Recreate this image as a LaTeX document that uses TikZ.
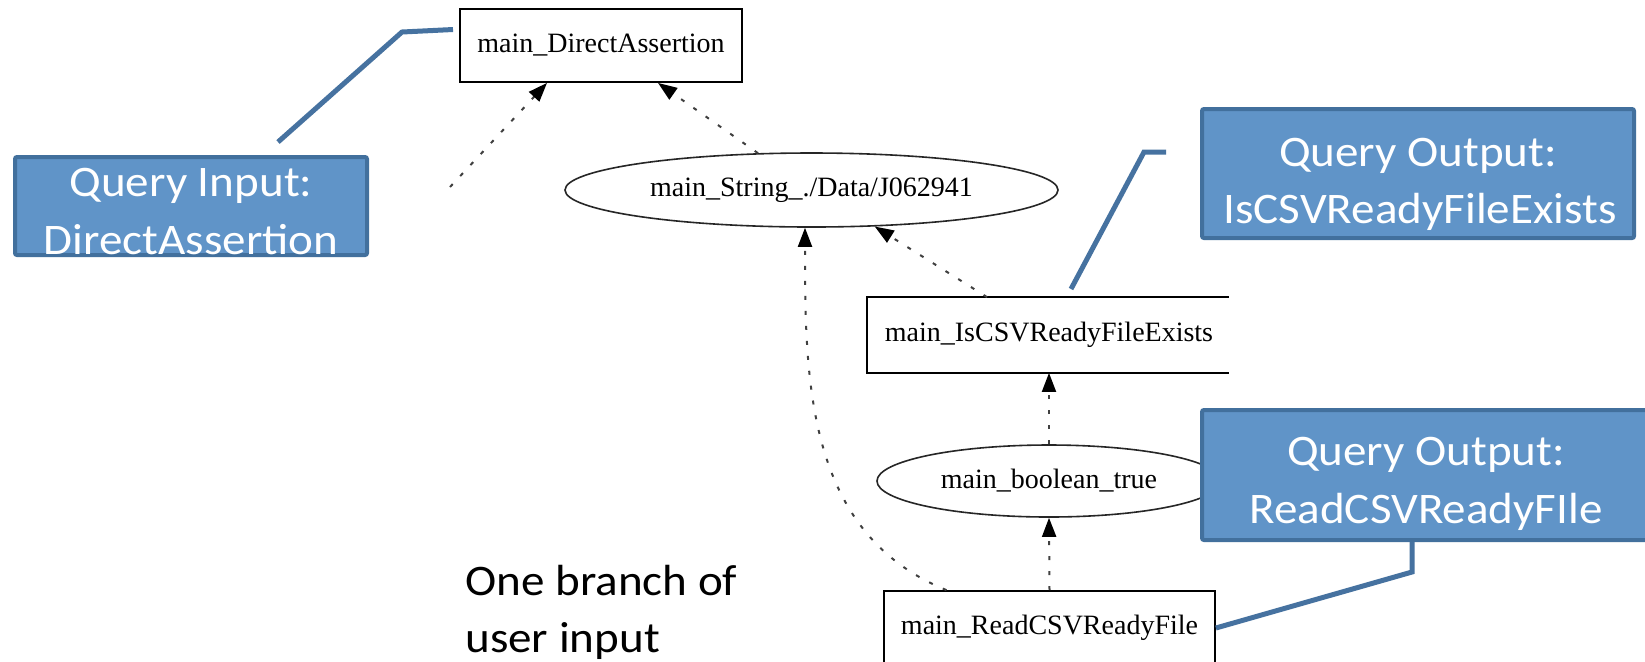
\documentclass[tikz,border=0pt]{standalone}
\usepackage{fontspec}
\usetikzlibrary{arrows.meta,shapes.geometric,calc}
\newfontfamily\gvfont{Liberation Serif}
\newfontfamily\calfont[FakeStretch=1.08]{Carlito}
\definecolor{qfill}{RGB}{96,148,200}
\definecolor{qedge}{RGB}{66,112,157}
\definecolor{leadc}{RGB}{70,114,160}
\begin{document}
\begin{tikzpicture}[x=0.5pt,y=-0.5pt,
  gvbox/.style={rectangle,draw=black,line width=0.9pt,inner sep=0pt,font=\gvfont\fontsize{14pt}{16pt}\selectfont},
  gvell/.style={ellipse,draw=black!85,line width=0.8pt,inner sep=0pt,font=\gvfont\fontsize{14pt}{16pt}\selectfont},
  qbox/.style={rectangle,draw=qedge,fill=qfill,line width=2pt,rounded corners=1pt,inner sep=0pt},
  qtext/.style={text=white,font=\calfont\fontsize{21.8pt}{26pt}\selectfont,inner sep=0pt,anchor=base},
  notetext/.style={text=black,font=\calfont\fontsize{21.8pt}{26pt}\selectfont,inner sep=0pt,anchor=base west},
  dep/.style={draw=black!75,line width=1pt,dash pattern=on 2pt off 5.5pt,-{Triangle[length=9.5pt,width=7pt,color=black]}},
  leader/.style={draw=leadc,line width=2.5pt}]
\useasboundingbox (0,0) rectangle (1645,661);
\fill[white] (0,0) rectangle (1645,661);

% graph nodes
\node[gvbox,minimum width=141pt,minimum height=36.5pt] (DA) at (601,45.5) {main\_DirectAssertion};
\node[gvell,minimum width=246.5pt,minimum height=37pt] (STR) at (811.5,190) {main\_String\_./Data/J062941};
\node[gvbox,draw=none,minimum width=181pt,minimum height=37pt] (ISC) at (1049,335) {main\_IsCSVReadyFileExists};
\draw[line width=0.9pt] ($(ISC.north east)+(-2,0)$) -- (ISC.north west) -- (ISC.south west) -- ($(ISC.south east)+(-2,0)$);
\node[gvell,minimum width=172pt,minimum height=36pt] (BOOL) at (1049,481) {main\_boolean\_true};
\node[gvbox,minimum width=165.5pt,minimum height=37pt] (RCF) at (1049.5,628) {main\_ReadCSVReadyFile};

% dependencies
\coordinate (lt) at (450,187);
\draw[dep] (lt) -- ($(DA.south)+(-54,0)$);
\draw[dep] ($(STR.north)+(-53.5,1)$) -- ($(DA.south)+(57,0)$);
\draw[dep] ($(ISC.north)+(-62,0)$) -- (STR.-30);
\draw[dep] ($(RCF.north)+(-103,0)$) to[out=158,in=-90] ($(STR.south)+(-6.5,0)$);
\draw[dep] (BOOL.north) -- (ISC.south);
\draw[dep] (RCF.north) -- (BOOL.south);

% query boxes
\node[qbox,minimum width=176pt,minimum height=49pt] (QI) at (191,206) {};
\node[qtext] (QIa) at (191,196.7) {Query Input:};
\node[qtext] (QIb) at (191,254) {DirectAssertion};

\node[qbox,minimum width=216pt,minimum height=64.5pt] (QO1) at (1418,173.5) {};
\node[qtext] (QO1a) at (1418,166.7) {Query Output:};
\node[qtext] (QO1b) at (1420,223) {IsCSVReadyFileExists};

\node[qbox,minimum width=224pt,minimum height=65pt] (QO2) at (1426,475) {};
\node[qtext] (QO2a) at (1426,465) {Query Output:};
\node[qtext] (QO2b) at (1426,523) {ReadCSVReadyFIle};

\node[notetext] (N1) at (465,595) {One branch of};
\node[notetext] (N2) at (465,652) {user input};

% leaders
\coordinate (qiA) at (278,142);
\coordinate (qiB) at (402,32);
\coordinate (qiC) at (453,29.5);
\draw[leader] (qiA) -- (qiB) -- (qiC);
\coordinate (q1A) at (1071,289);
\coordinate (q1B) at (1144,152);
\coordinate (q1C) at (1166,152);
\draw[leader] (q1A) -- (q1B) -- (q1C);
\coordinate (q2A) at (1412,542);
\coordinate (q2B) at (1412,572);
\draw[leader] (q2A) -- (q2B) -- (RCF.east);
\end{tikzpicture}
\end{document}
